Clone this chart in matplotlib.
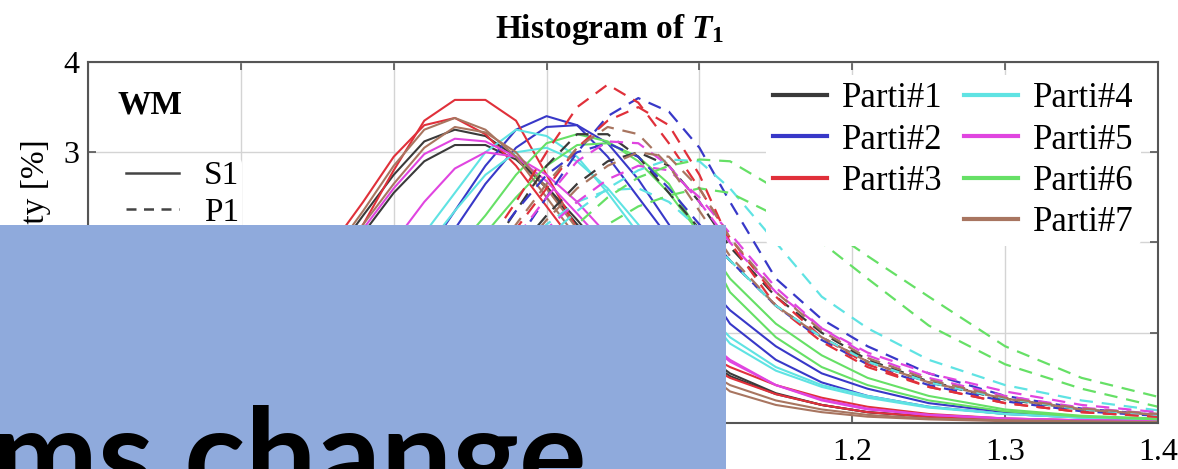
import matplotlib
matplotlib.use("Agg")
import matplotlib.pyplot as plt
from matplotlib.lines import Line2D
from matplotlib.patches import Rectangle

plt.rcParams["font.family"] = ["Liberation Serif", "DejaVu Serif"]
plt.rcParams["mathtext.fontset"] = "custom"
plt.rcParams["mathtext.it"] = "Liberation Serif:italic:bold"
plt.rcParams["mathtext.rm"] = "Liberation Serif:bold"

# bin centres of T1 (shared by every histogram curve)
t1 = [0.74, 0.78, 0.82, 0.85, 0.88, 0.90, 0.92, 0.94, 0.96, 0.98, 1.00, 1.02,
      1.04, 1.06, 1.08, 1.10, 1.12, 1.15, 1.18, 1.21, 1.25, 1.30, 1.35, 1.40]

participants = ["Parti#1", "Parti#2", "Parti#3", "Parti#4", "Parti#5", "Parti#6", "Parti#7"]
colors = ["#3a3a3a", "#3838c8", "#e0303a", "#5fe3e3", "#e045e0", "#66e066", "#a87560"]

# solid curves (two sessions per participant), probability in %
solid_p1 = [[0.05, 0.32, 0.95, 1.6, 2.3, 2.75, 3.12, 3.25, 3.18, 2.95, 2.6, 2.2, 1.78, 1.38, 1.05, 0.75, 0.52, 0.32, 0.2, 0.12, 0.07, 0.04, 0.02, 0.01],
            [0.04, 0.25, 0.8, 1.4, 2.1, 2.55, 2.9, 3.08, 3.08, 2.92, 2.62, 2.25, 1.85, 1.45, 1.1, 0.8, 0.55, 0.33, 0.2, 0.12, 0.07, 0.04, 0.02, 0.01]]
solid_p2 = [[0.0, 0.03, 0.15, 0.45, 0.95, 1.4, 1.85, 2.35, 2.85, 3.25, 3.4, 3.3, 2.95, 2.5, 2.05, 1.62, 1.25, 0.85, 0.55, 0.38, 0.22, 0.12, 0.07, 0.04],
            [0.0, 0.02, 0.1, 0.35, 0.8, 1.2, 1.65, 2.15, 2.65, 3.05, 3.28, 3.3, 3.1, 2.7, 2.2, 1.62, 1.1, 0.7, 0.45, 0.3, 0.18, 0.1, 0.06, 0.03]]
solid_p3 = [[0.05, 0.3, 0.9, 1.5, 2.2, 2.8, 3.35, 3.58, 3.58, 3.35, 2.75, 2.15, 1.7, 1.35, 1.05, 0.8, 0.62, 0.42, 0.28, 0.18, 0.1, 0.05, 0.03, 0.02],
            [0.08, 0.4, 1.1, 1.75, 2.45, 2.95, 3.3, 3.38, 3.2, 2.85, 2.4, 1.95, 1.55, 1.2, 0.92, 0.68, 0.5, 0.32, 0.2, 0.12, 0.07, 0.04, 0.02, 0.02]]
solid_p4 = [[0.0, 0.05, 0.25, 0.65, 1.25, 1.7, 2.1, 2.55, 3.0, 3.25, 3.18, 2.95, 2.55, 2.1, 1.7, 1.3, 0.95, 0.62, 0.42, 0.3, 0.18, 0.1, 0.06, 0.04],
            [0.0, 0.03, 0.18, 0.5, 1.05, 1.5, 1.92, 2.35, 2.75, 3.0, 3.05, 2.9, 2.6, 2.2, 1.75, 1.3, 0.88, 0.58, 0.4, 0.28, 0.17, 0.1, 0.06, 0.04]]
solid_p5 = [[0.04, 0.28, 0.85, 1.45, 2.15, 2.6, 2.98, 3.15, 3.12, 2.95, 2.68, 2.32, 1.95, 1.58, 1.25, 0.95, 0.68, 0.42, 0.26, 0.16, 0.09, 0.05, 0.03, 0.02],
            [0.02, 0.12, 0.45, 0.9, 1.5, 2.0, 2.45, 2.82, 3.0, 2.95, 2.75, 2.45, 2.08, 1.7, 1.32, 0.98, 0.7, 0.42, 0.25, 0.15, 0.09, 0.05, 0.03, 0.02]]
solid_p6 = [[0.0, 0.01, 0.08, 0.28, 0.7, 1.1, 1.5, 1.9, 2.3, 2.75, 3.1, 3.2, 3.12, 2.9, 2.55, 2.1, 1.6, 1.1, 0.75, 0.5, 0.3, 0.15, 0.08, 0.05],
            [0.0, 0.01, 0.05, 0.2, 0.55, 0.92, 1.3, 1.7, 2.1, 2.5, 2.85, 3.08, 3.1, 2.95, 2.65, 2.1, 1.45, 0.95, 0.62, 0.42, 0.25, 0.13, 0.07, 0.04]]
solid_p7 = [[0.06, 0.38, 1.0, 1.65, 2.35, 2.85, 3.25, 3.38, 3.25, 2.95, 2.5, 2.05, 1.6, 1.22, 0.9, 0.62, 0.42, 0.25, 0.15, 0.09, 0.05, 0.03, 0.02, 0.01],
            [0.04, 0.3, 0.85, 1.5, 2.2, 2.65, 3.05, 3.28, 3.22, 3.0, 2.6, 2.15, 1.72, 1.3, 0.95, 0.62, 0.35, 0.2, 0.12, 0.07, 0.04, 0.02, 0.01, 0.01]]

# dashed curves (two sessions per participant), probability in %
dashed_p1 = [[0.0, 0.0, 0.02, 0.1, 0.3, 0.6, 0.95, 1.4, 1.85, 2.35, 2.85, 3.2, 3.2, 2.95, 2.55, 2.15, 1.8, 1.3, 0.95, 0.68, 0.45, 0.26, 0.15, 0.09],
             [0.0, 0.0, 0.01, 0.06, 0.22, 0.45, 0.75, 1.1, 1.5, 1.9, 2.3, 2.65, 2.9, 3.0, 2.85, 2.45, 1.95, 1.4, 1.0, 0.7, 0.46, 0.27, 0.15, 0.09]]
dashed_p2 = [[0.0, 0.0, 0.01, 0.05, 0.2, 0.4, 0.7, 1.1, 1.55, 2.0, 2.5, 3.0, 3.4, 3.6, 3.45, 3.05, 2.45, 1.6, 1.15, 0.85, 0.55, 0.3, 0.16, 0.09],
             [0.0, 0.0, 0.02, 0.1, 0.35, 0.65, 1.0, 1.45, 1.9, 2.35, 2.75, 3.0, 3.1, 2.95, 2.6, 2.2, 1.8, 1.3, 0.92, 0.65, 0.42, 0.24, 0.13, 0.08]]
dashed_p3 = [[0.0, 0.0, 0.02, 0.1, 0.35, 0.65, 1.05, 1.5, 1.95, 2.45, 3.0, 3.5, 3.75, 3.55, 3.1, 2.6, 2.05, 1.4, 0.95, 0.65, 0.4, 0.22, 0.12, 0.07],
             [0.0, 0.0, 0.01, 0.06, 0.25, 0.5, 0.85, 1.25, 1.7, 2.15, 2.6, 3.05, 3.35, 3.5, 3.3, 2.75, 2.0, 1.3, 0.9, 0.62, 0.4, 0.22, 0.12, 0.07]]
dashed_p4 = [[0.0, 0.0, 0.0, 0.03, 0.12, 0.3, 0.55, 0.9, 1.3, 1.7, 2.05, 2.35, 2.6, 2.8, 2.92, 2.9, 2.6, 2.0, 1.4, 1.05, 0.7, 0.42, 0.25, 0.14],
             [0.0, 0.0, 0.01, 0.05, 0.2, 0.4, 0.7, 1.05, 1.45, 1.85, 2.2, 2.45, 2.58, 2.6, 2.45, 2.15, 1.8, 1.3, 0.95, 0.68, 0.45, 0.27, 0.15, 0.09]]
dashed_p5 = [[0.0, 0.0, 0.02, 0.08, 0.25, 0.5, 0.8, 1.2, 1.6, 2.05, 2.5, 2.9, 3.12, 3.1, 2.85, 2.45, 2.0, 1.45, 1.05, 0.78, 0.55, 0.35, 0.2, 0.12],
             [0.0, 0.0, 0.01, 0.05, 0.18, 0.38, 0.65, 1.0, 1.4, 1.8, 2.15, 2.45, 2.7, 2.85, 2.8, 2.5, 2.1, 1.5, 1.05, 0.75, 0.5, 0.3, 0.17, 0.1]]
dashed_p6 = [[0.0, 0.0, 0.0, 0.02, 0.08, 0.2, 0.4, 0.7, 1.05, 1.45, 1.85, 2.2, 2.5, 2.72, 2.85, 2.92, 2.9, 2.6, 2.2, 1.85, 1.4, 0.85, 0.5, 0.29],
             [0.0, 0.0, 0.0, 0.02, 0.07, 0.18, 0.35, 0.6, 0.92, 1.3, 1.65, 1.95, 2.2, 2.4, 2.52, 2.6, 2.55, 2.3, 2.0, 1.6, 1.08, 0.65, 0.38, 0.18]]
dashed_p7 = [[0.0, 0.0, 0.02, 0.08, 0.28, 0.55, 0.9, 1.3, 1.75, 2.2, 2.65, 3.05, 3.28, 3.2, 2.85, 2.35, 1.85, 1.3, 0.95, 0.68, 0.45, 0.27, 0.15, 0.09],
             [0.0, 0.0, 0.01, 0.05, 0.2, 0.4, 0.7, 1.05, 1.45, 1.85, 2.25, 2.6, 2.85, 3.0, 2.95, 2.6, 2.05, 1.45, 1.02, 0.72, 0.48, 0.28, 0.16, 0.1]]

solid_sets = [solid_p1, solid_p2, solid_p3, solid_p4, solid_p5, solid_p6, solid_p7]
dashed_sets = [dashed_p1, dashed_p2, dashed_p3, dashed_p4, dashed_p5, dashed_p6, dashed_p7]

# tick labels lying under the caption banner are left blank
x_ticks = [0.7, 0.8, 0.9, 1.0, 1.1, 1.2, 1.3, 1.4]
x_tick_labels = ["", "", "", "", "", "1.2", "1.3", "1.4"]
y_ticks = [0, 1, 2, 3, 4]
y_tick_labels = ["", "", "", "3", "4"]

fig = plt.figure(figsize=(11.78, 4.69), dpi=100)
ax = fig.add_axes([88 / 1178, 46 / 469, 1070 / 1178, 361 / 469])

for col, sessions in zip(colors, solid_sets):
    for ys in sessions:
        ax.plot(t1, ys, color=col, lw=1.5, solid_joinstyle="round")
for col, sessions in zip(colors, dashed_sets):
    for ys in sessions:
        ax.plot(t1, ys, color=col, lw=1.6, dashes=(6, 4))

ax.set_xlim(0.7, 1.4)
ax.set_ylim(0, 4)
ax.set_xticks(x_ticks)
ax.set_xticklabels(x_tick_labels)
ax.set_yticks(y_ticks)
ax.set_yticklabels(y_tick_labels)
ax.grid(True, color="#d4d4d4", lw=1.0)
ax.set_axisbelow(True)
for sp in ax.spines.values():
    sp.set_color("#555555")
    sp.set_linewidth(1.5)
ax.tick_params(axis="both", direction="in", length=6, width=1.2, color="#555555",
               top=True, right=True, labelsize=23)
ax.tick_params(axis="x", pad=11)
ax.tick_params(axis="y", pad=6)

ax.set_ylabel("Probability [%]", fontsize=24)
ax.yaxis.set_label_coords(-0.035, 0.5)
ax.set_title(r"Histogram of $T_1$", fontsize=24, fontweight="bold", pad=17, x=0.488)

# participant colour legend (two columns, 3 + 4 entries)
handles = [Line2D([], [], color=c, lw=3) for c in colors]
labels = list(participants)
handles.insert(3, Line2D([], [], color="none"))
labels.insert(3, "")
leg1 = ax.legend(handles, labels, ncol=2, loc="upper right",
                 bbox_to_anchor=(0.984, 0.963), fontsize=25, frameon=True,
                 framealpha=1, edgecolor="none", handlelength=1.55,
                 handletextpad=0.45, columnspacing=0.6, labelspacing=0.24,
                 borderpad=0.2, borderaxespad=0.0)
ax.add_artist(leg1)

# line-style legend
ax.text(0.028, 0.88, "WM", transform=ax.transAxes, fontsize=24, fontweight="bold",
        va="center", ha="left")
style_handles = [Line2D([], [], color="#444444", lw=1.8),
                 Line2D([], [], color="#444444", lw=1.8, dashes=(4, 3))]
ax.legend(style_handles, ["S1", "P1"], loc="upper left", bbox_to_anchor=(0.032, 0.735),
          fontsize=24, frameon=True, framealpha=1, edgecolor="none",
          handlelength=1.6, handletextpad=0.75, labelspacing=0.18,
          borderpad=0.1, borderaxespad=0.0)

# caption banner over the lower-left part
fig.add_artist(Rectangle((0, 0), 726 / 1178, 244 / 469, transform=fig.transFigure,
                         facecolor="#8faadc", edgecolor="none", zorder=10))
fig.text(-8 / 1178, -30 / 469, "ms change", fontsize=91, fontweight="bold",
         family="Lato", color="black", ha="left", va="baseline", zorder=11)

fig.savefig("out.png", dpi=100)
